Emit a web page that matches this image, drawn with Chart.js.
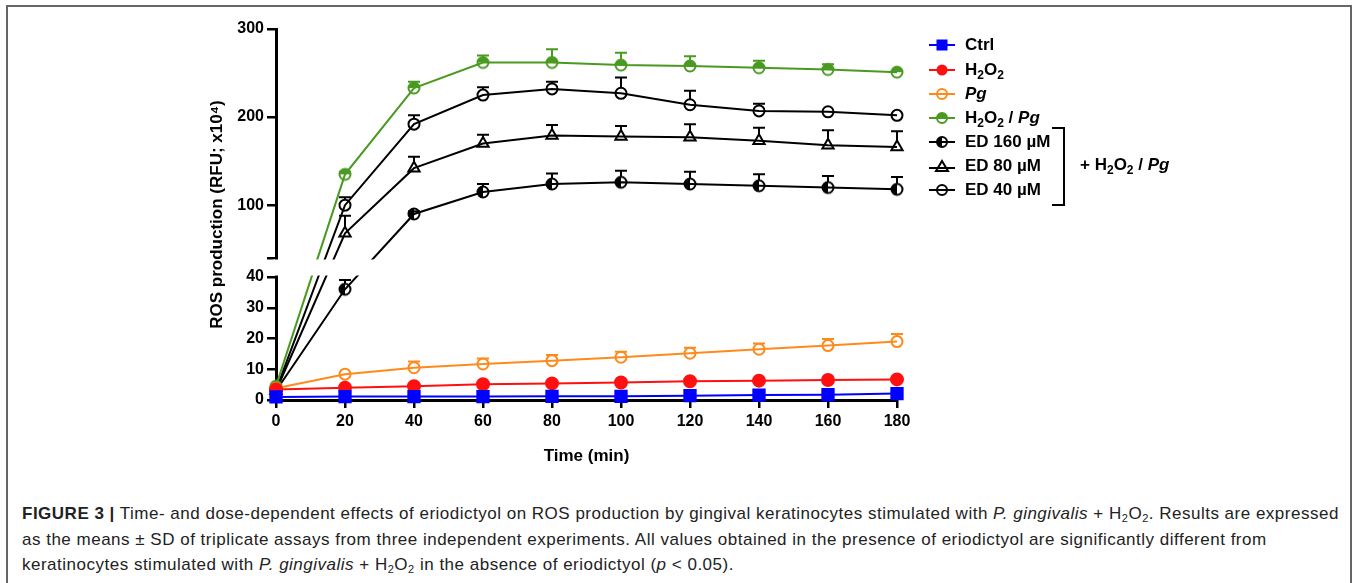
<!DOCTYPE html>
<html>
<head>
<meta charset="utf-8">
<title>ROS production</title>
<script src="https://cdn.jsdelivr.net/npm/chart.js"></script>
<style>
  body { margin: 0; background: #fff; font-family: "Liberation Sans", Arial, sans-serif; }
  #frame { position: absolute; left: 6px; top: 5px; width: 1342px; height: 640px; border: 2px solid #666; }
  #chartBox { position: absolute; left: 0; top: 0; width: 1357px; height: 467px; }
  .lg { position: absolute; left: 929px; height: 20px; display: flex; align-items: center;
        font: bold 17px "Liberation Sans", Arial, sans-serif; color: #000; white-space: nowrap; }
  .lg svg { width: 26px; height: 16px; margin-right: 10px; flex: none; }
  .lg sub, .grp sub { font-size: 12px; vertical-align: -4px; line-height: 0; }
  .bracket { position: absolute; left: 1052px; top: 127px; width: 11px; height: 75px;
             border: 2px solid #000; border-left: none; }
  .grp { position: absolute; left: 1080px; top: 155px; font: bold 17px "Liberation Sans", Arial, sans-serif; white-space: nowrap; }
  #caption { position: absolute; left: 22px; top: 501px; font-size: 17px; letter-spacing: 0.5px; line-height: 25.5px;
             color: #222; white-space: nowrap; }
  #caption sub { font-size: 11px; vertical-align: -3px; line-height: 0; }
</style>
</head>
<body>
<div id="frame"></div>
<div id="chartBox"><canvas id="rosChart" width="1357" height="467"></canvas></div>

<div class="lg" style="top:35px"><svg viewBox="0 0 26 16"><line x1="0" y1="8" x2="26" y2="8" stroke="#0000ff" stroke-width="2"/><rect x="7.5" y="2.5" width="11" height="11" fill="#0000ff"/></svg><span>Ctrl</span></div>
<div class="lg" style="top:60px"><svg viewBox="0 0 26 16"><line x1="0" y1="8" x2="26" y2="8" stroke="#ff1010" stroke-width="2"/><circle cx="13" cy="8" r="5.5" fill="#ff1010"/></svg><span>H<sub>2</sub>O<sub>2</sub></span></div>
<div class="lg" style="top:84px"><svg viewBox="0 0 26 16"><line x1="0" y1="8" x2="26" y2="8" stroke="#ff8a1c" stroke-width="2"/><circle cx="13" cy="8" r="5" fill="none" stroke="#ff8a1c" stroke-width="2"/></svg><span><i>Pg</i></span></div>
<div class="lg" style="top:108px"><svg viewBox="0 0 26 16"><line x1="0" y1="8" x2="26" y2="8" stroke="#4a9a22" stroke-width="2"/><path d="M8 8 A5 5 0 0 1 18 8 Z" fill="#4a9a22"/><circle cx="13" cy="8" r="5" fill="none" stroke="#4a9a22" stroke-width="2"/></svg><span>H<sub>2</sub>O<sub>2</sub> / <i>Pg</i></span></div>
<div class="lg" style="top:132px"><svg viewBox="0 0 26 16"><line x1="0" y1="8" x2="26" y2="8" stroke="#000" stroke-width="2"/><path d="M13 3 A5 5 0 0 0 13 13 Z" fill="#000"/><circle cx="13" cy="8" r="5" fill="none" stroke="#000" stroke-width="2"/></svg><span>ED 160 µM</span></div>
<div class="lg" style="top:156px"><svg viewBox="0 0 26 16"><line x1="0" y1="10" x2="26" y2="10" stroke="#000" stroke-width="2"/><polygon points="13,3 19,13 7,13" fill="none" stroke="#000" stroke-width="2"/></svg><span>ED 80 µM</span></div>
<div class="lg" style="top:180px"><svg viewBox="0 0 26 16"><line x1="0" y1="8" x2="26" y2="8" stroke="#000" stroke-width="2"/><circle cx="13" cy="8" r="5" fill="none" stroke="#000" stroke-width="2"/></svg><span>ED 40 µM</span></div>
<div class="bracket"></div>
<div class="grp">+ H<sub>2</sub>O<sub>2</sub> / <i>Pg</i></div>

<div id="caption">
<b>FIGURE 3 |</b> Time- and dose-dependent effects of eriodictyol on ROS production by gingival keratinocytes stimulated with <i>P. gingivalis</i> + H<sub>2</sub>O<sub>2</sub>. Results are expressed<br>
as the means ± SD of triplicate assays from three independent experiments. All values obtained in the presence of eriodictyol are significantly different from<br>
keratinocytes stimulated with <i>P. gingivalis</i> + H<sub>2</sub>O<sub>2</sub> in the absence of eriodictyol (<i>p</i> &lt; 0.05).
</div>

<script>
// time points (min)
var times = [0, 20, 40, 60, 80, 100, 120, 140, 160, 180];

// means, RFU x10^4
var ctrlVals   = [1.0, 1.1, 1.1, 1.1, 1.2, 1.2, 1.4, 1.6, 1.7, 2.1];
var h2o2Vals   = [3.4, 4.0, 4.5, 5.1, 5.4, 5.7, 6.1, 6.3, 6.5, 6.7];
var pgVals     = [3.8, 8.4, 10.5, 11.7, 12.8, 13.9, 15.2, 16.5, 17.7, 19.0];
var h2o2PgVals = [4.5, 135, 233, 262, 262, 259, 258, 256, 254, 251];
var ed160Vals  = [3.0, 36, 90, 115, 124, 126, 124, 122, 120, 118];
var ed80Vals   = [3.0, 68, 142, 170, 179, 178, 177, 173, 168, 166];
var ed40Vals   = [3.2, 100, 192, 225, 232, 227, 214, 207, 206, 202];

// SD (upper bars only)
var pgSd     = [0, 0, 2.0, 1.8, 1.8, 1.8, 1.8, 1.9, 2.1, 2.5];
var h2o2PgSd = [0, 3, 7, 8, 15, 14, 11, 8, 6, 0];
var ed160Sd  = [0, 3, 3, 9, 12, 13, 14, 13, 13, 14];
var ed80Sd   = [0, 20, 13, 10, 12, 12, 15, 15, 17, 18];
var ed40Sd   = [0, 9, 10, 9, 8, 18, 16, 8, 0, 0];

// broken y axis: 0-40 below, 40-300 above
var yBreak = 40;
var yMax = 300;
var yTicks = [0, 10, 20, 30, 40, 40.0001, 100, 200, 300];

class BrokenScale extends Chart.LinearScale {
    buildTicks() {
        return yTicks.map(function(v) { return { value: v }; });
    }
    getPixelForValue(v) {
        var h = this.bottom - this.top;
        var lowTop = this.bottom - h * 0.3315;
        var upBottom = lowTop - h * 0.0512;
        if (v <= yBreak) return this.bottom - v / yBreak * (this.bottom - lowTop);
        return upBottom - (v - yBreak) / (yMax - yBreak) * (upBottom - this.top);
    }
    getValueForPixel(p) {
        var h = this.bottom - this.top;
        var lowTop = this.bottom - h * 0.3315;
        var upBottom = lowTop - h * 0.0512;
        if (p >= lowTop) return (this.bottom - p) / (this.bottom - lowTop) * yBreak;
        return yBreak + (upBottom - p) / (upBottom - this.top) * (yMax - yBreak);
    }
}
BrokenScale.id = 'broken';
BrokenScale.defaults = Chart.LinearScale.defaults;
Chart.register(BrokenScale);

function halfCircle(color, side) {
    var c = document.createElement('canvas');
    c.width = 16; c.height = 16;
    var g = c.getContext('2d');
    g.fillStyle = color;
    g.beginPath();
    if (side === 'top') g.arc(8, 8, 5.5, Math.PI, 0);
    else g.arc(8, 8, 5.5, Math.PI / 2, Math.PI * 1.5);
    g.closePath();
    g.fill();
    g.strokeStyle = color;
    g.lineWidth = 2;
    g.beginPath();
    g.arc(8, 8, 5.5, 0, Math.PI * 2);
    g.stroke();
    return c;
}

function pts(vals) {
    return vals.map(function(v, i) { return { x: times[i], y: v }; });
}

function series(label, vals, sd, color, style, radius, fill) {
    return {
        label: label,
        data: pts(vals),
        sd: sd,
        borderColor: color,
        backgroundColor: fill,
        borderWidth: 2,
        pointStyle: style,
        pointRadius: radius,
        pointBorderWidth: 2,
        pointBorderColor: color,
        pointBackgroundColor: fill,
        tension: 0,
        clip: false
    };
}

var errorBars = {
    id: 'errorBars',
    afterDatasetsDraw: function(chart) {
        var ctx = chart.ctx, xs = chart.scales.x, ys = chart.scales.y;
        chart.data.datasets.forEach(function(ds) {
            if (!ds.sd) return;
            ctx.save();
            ctx.strokeStyle = ds.borderColor;
            ctx.lineWidth = 2;
            ds.data.forEach(function(p, j) {
                var sd = ds.sd[j];
                if (!sd) return;
                var px = xs.getPixelForValue(p.x);
                var py = ys.getPixelForValue(p.y);
                var top = ys.getPixelForValue(p.y + sd);
                ctx.beginPath();
                if (top < py - 5.5) {
                    ctx.moveTo(px, py - 5.5);
                    ctx.lineTo(px, top);
                }
                ctx.moveTo(px - 6, top);
                ctx.lineTo(px + 6, top);
                ctx.stroke();
            });
            ctx.restore();
        });
        // white gap for the axis break
        var a = ys.getPixelForValue(yBreak + 0.0001);
        var b = ys.getPixelForValue(yBreak);
        ctx.save();
        ctx.fillStyle = '#fff';
        ctx.fillRect(chart.chartArea.left - 3, a + 1.5, chart.chartArea.right - chart.chartArea.left + 20, b - a - 3);
        ctx.restore();
    }
};

var tickFont = { family: 'Liberation Sans, Arial, sans-serif', size: 16, weight: 'bold' };
var titleFont = { family: 'Liberation Sans, Arial, sans-serif', size: 17, weight: 'bold' };

new Chart(document.getElementById('rosChart').getContext('2d'), {
    type: 'line',
    data: {
        datasets: [
            series('Ctrl', ctrlVals, null, '#0000ff', 'rect', 8, '#0000ff'),
            series('H2O2', h2o2Vals, null, '#ff1010', 'circle', 6, '#ff1010'),
            series('Pg', pgVals, pgSd, '#ff8a1c', 'circle', 5.5, 'rgba(0,0,0,0)'),
            series('H2O2 / Pg', h2o2PgVals, h2o2PgSd, '#4a9a22', halfCircle('#4a9a22', 'top'), 5.5, 'rgba(0,0,0,0)'),
            series('ED 160 µM', ed160Vals, ed160Sd, '#000000', halfCircle('#000000', 'left'), 5.5, 'rgba(0,0,0,0)'),
            series('ED 80 µM', ed80Vals, ed80Sd, '#000000', 'triangle', 6.5, 'rgba(0,0,0,0)'),
            series('ED 40 µM', ed40Vals, ed40Sd, '#000000', 'circle', 5.5, 'rgba(0,0,0,0)')
        ]
    },
    options: {
        responsive: false,
        animation: false,
        events: [],
        layout: { padding: { left: 207, right: 460, top: 29, bottom: 0 } },
        plugins: { legend: { display: false }, tooltip: { enabled: false } },
        scales: {
            x: {
                type: 'linear',
                min: 0,
                max: 180,
                ticks: { stepSize: 20, color: '#000', font: tickFont, padding: 4, maxRotation: 0 },
                grid: { drawOnChartArea: false, drawTicks: true, tickLength: 8, color: '#000', lineWidth: 2.5 },
                border: { display: true, color: '#000', width: 3 },
                title: { display: true, text: 'Time (min)', color: '#000', font: titleFont, padding: 0 },
                afterFit: function(s) { s.height = 67; }
            },
            y: {
                type: 'broken',
                min: 0,
                max: 300,
                ticks: {
                    autoSkip: false,
                    color: '#000',
                    font: tickFont,
                    padding: 3,
                    callback: function(v) { return v === 40.0001 ? '' : String(v); }
                },
                grid: { drawOnChartArea: false, drawTicks: true, tickLength: 9, color: '#000', lineWidth: 2.5 },
                border: { display: true, color: '#000', width: 3 },
                title: { display: true, text: 'ROS production (RFU; x10⁴)', color: '#000', font: titleFont, padding: 0 },
                afterFit: function(s) { s.width = 69; }
            }
        }
    },
    plugins: [errorBars]
});
</script>
</body>
</html>
